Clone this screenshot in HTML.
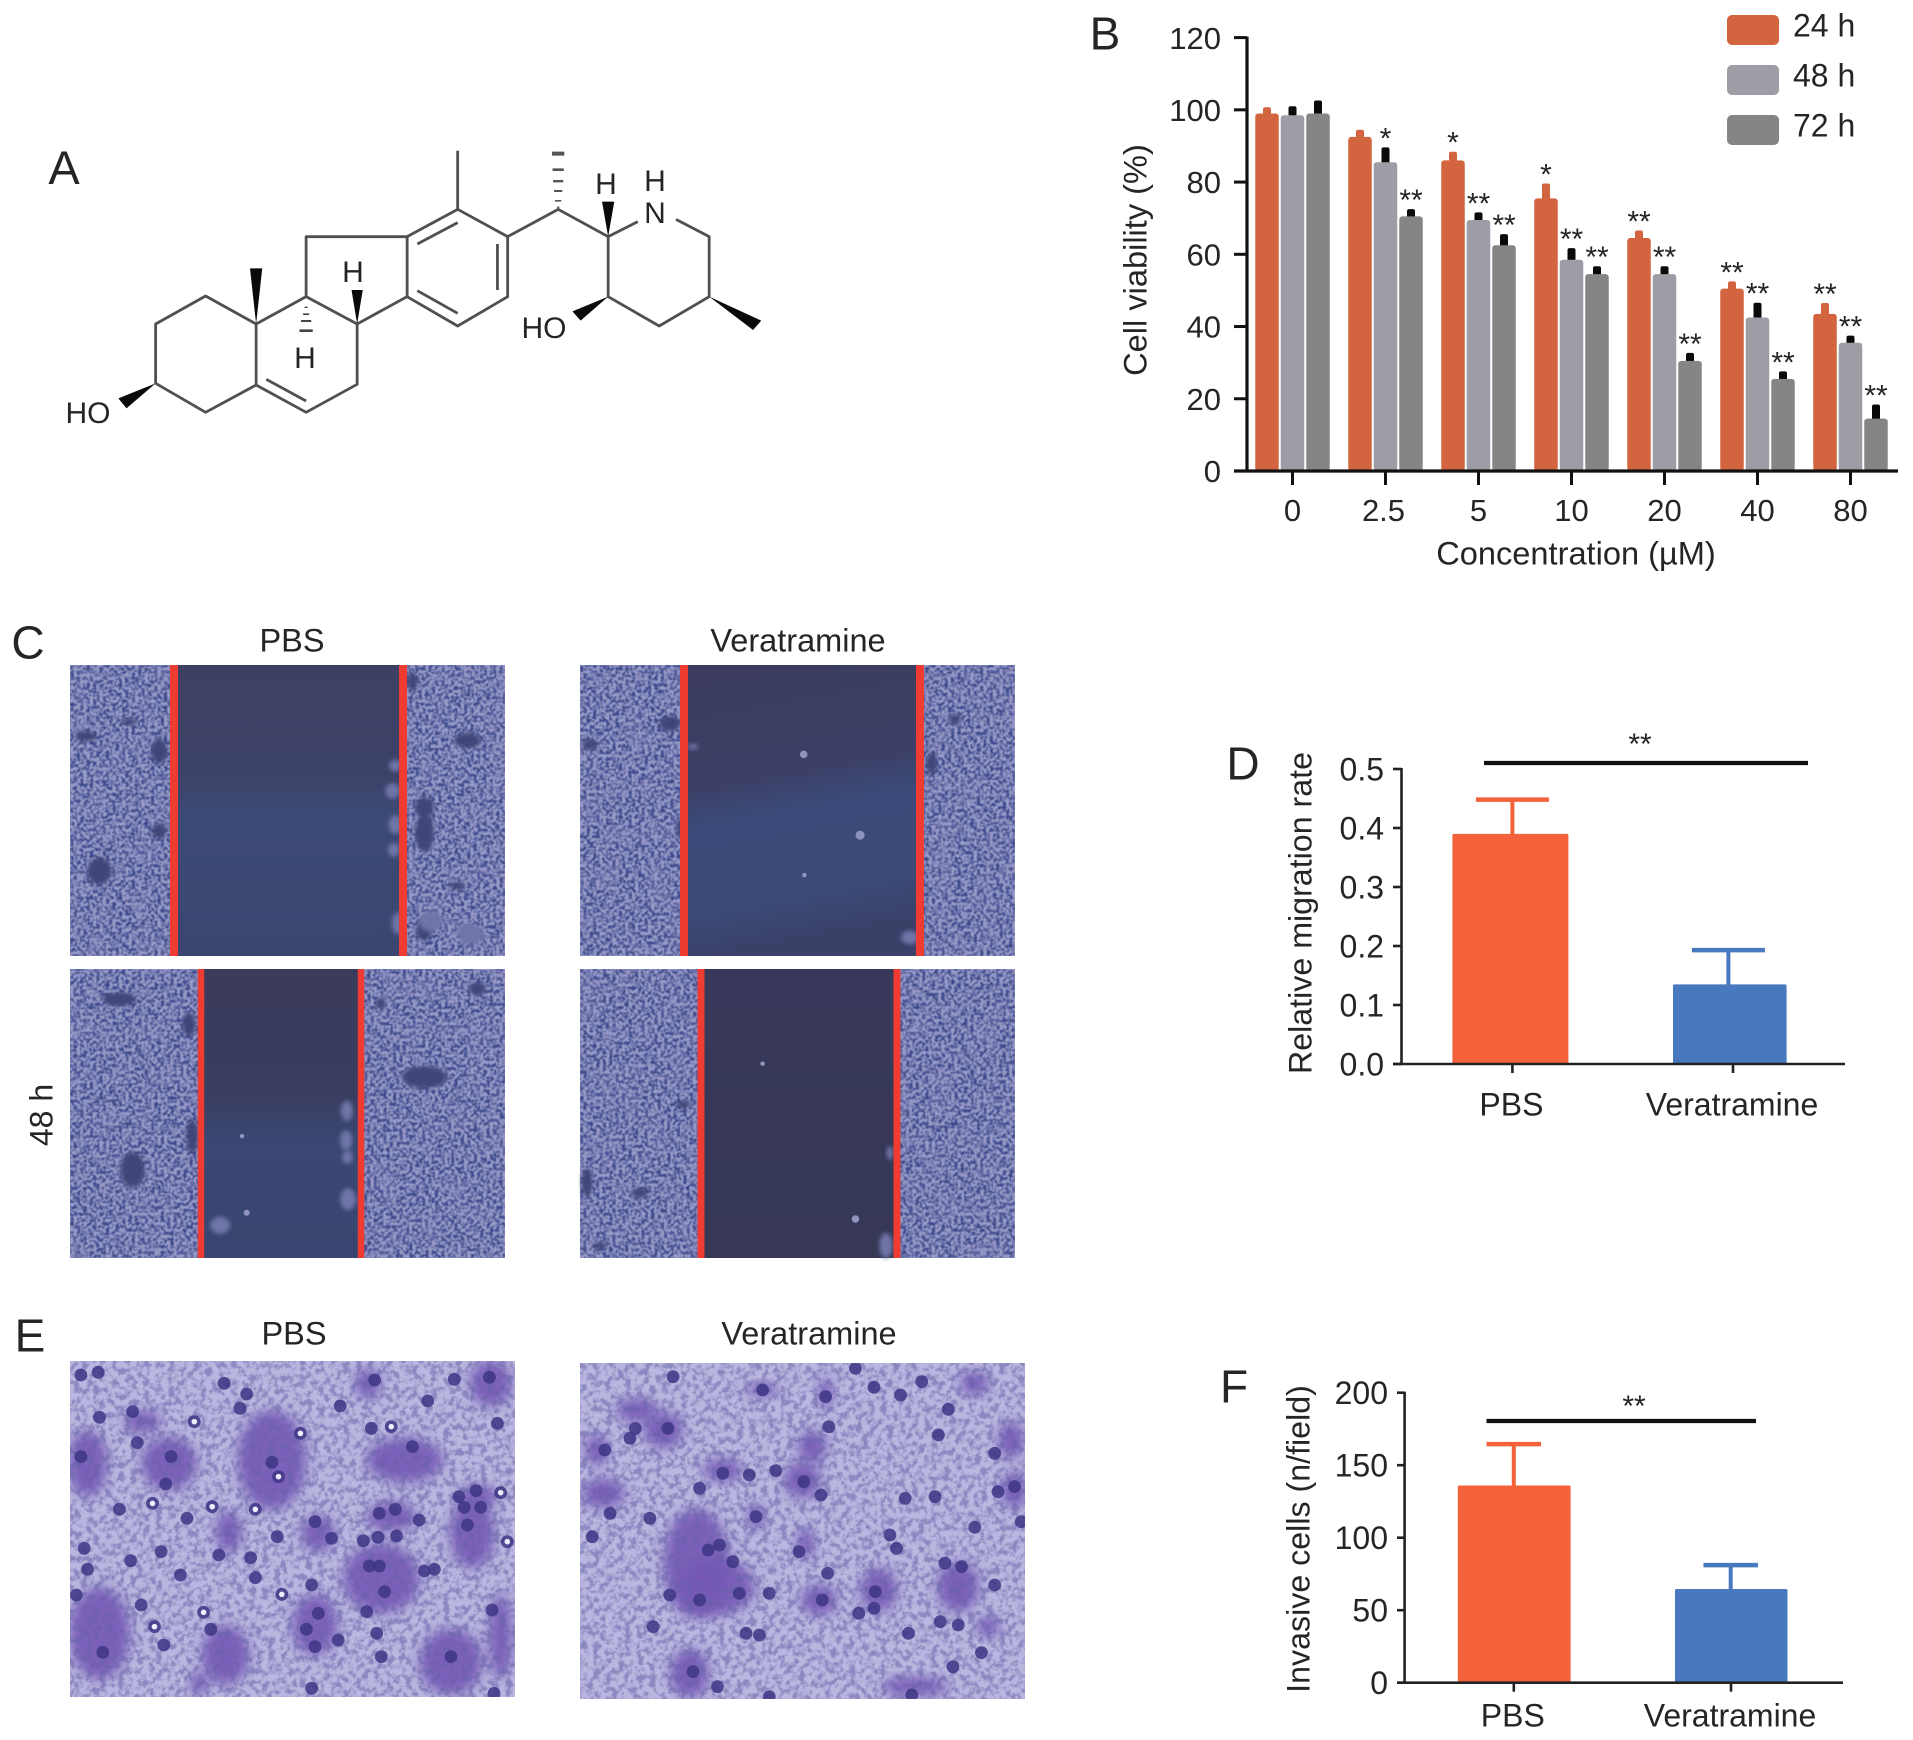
<!DOCTYPE html>
<html lang="en">
<head>
<meta charset="utf-8">
<title>Veratramine figure</title>
<style>
html,body{margin:0;padding:0;background:#fff;width:1913px;height:1740px;overflow:hidden}
svg{display:block}
text{font-family:"Liberation Sans",sans-serif;fill:#252525}
</style>
</head>
<body>
<svg id="fig" xmlns="http://www.w3.org/2000/svg" width="1913" height="1740" viewBox="0 0 1913 1740">
<defs>
<filter id="cellTex" x="0" y="0" width="1" height="1" color-interpolation-filters="sRGB">
<feTurbulence type="fractalNoise" baseFrequency=".31" numOctaves="2" seed="4"/>
<feColorMatrix type="matrix" values="0 0 0 0 .23  0 0 0 0 .28  0 0 0 0 .54  4.4 0 0 0 -1.8"/>
<feGaussianBlur stdDeviation=".6"/>
</filter>
<filter id="mottleTex" x="0" y="0" width="1" height="1" color-interpolation-filters="sRGB">
<feTurbulence type="fractalNoise" baseFrequency=".045" numOctaves="2" seed="12"/>
<feColorMatrix type="matrix" values="0 0 0 0 .58  0 0 0 0 .56  0 0 0 0 .76  4 0 0 0 -1.75"/>
</filter>
<filter id="stainTex" x="0" y="0" width="1" height="1" color-interpolation-filters="sRGB">
<feTurbulence type="fractalNoise" baseFrequency=".16" numOctaves="3" seed="9"/>
<feColorMatrix type="matrix" values="0 0 0 0 .40  0 0 0 0 .38  0 0 0 0 .66  4 0 0 0 -1.7"/>
</filter>
<filter id="softBlur" x="-30%" y="-30%" width="160%" height="160%"><feGaussianBlur stdDeviation="6"/></filter>
<filter id="lightBlur" x="-30%" y="-30%" width="160%" height="160%"><feGaussianBlur stdDeviation="2.2"/></filter>
<linearGradient id="woundTL" x1="0" y1="0" x2="0" y2="1"><stop offset="0" stop-color="#3e3f64"/><stop offset=".38" stop-color="#3d4268"/><stop offset=".52" stop-color="#3b4a75"/><stop offset="1" stop-color="#3a4670"/></linearGradient>
<linearGradient id="woundTR" x1="0" y1="0" x2=".15" y2="1"><stop offset="0" stop-color="#3b3c5f"/><stop offset=".42" stop-color="#3c3f66"/><stop offset=".55" stop-color="#3b4a78"/><stop offset=".85" stop-color="#3b4a76"/><stop offset="1" stop-color="#3a4068"/></linearGradient>
<linearGradient id="woundBL" x1="0" y1="0" x2="0" y2="1"><stop offset="0" stop-color="#3b3b5b"/><stop offset=".42" stop-color="#3a3d60"/><stop offset=".6" stop-color="#394772"/><stop offset="1" stop-color="#394570"/></linearGradient>
<linearGradient id="woundBR" x1="0" y1="0" x2="0" y2="1"><stop offset="0" stop-color="#38395a"/><stop offset="1" stop-color="#363856"/></linearGradient>
</defs>

<!-- Panel A: structure -->
<g>
<text x="64" y="184" font-size="47" text-anchor="middle">A</text>
<g transform="scale(.5102 .33333) translate(0 300)" fill="none" stroke="#505050" stroke-width="2.8" stroke-linejoin="round">
<path vector-effect="non-scaling-stroke" d="M305 672L403 588L502 672L502 855L403 937L305 850Z"/>
<path vector-effect="non-scaling-stroke" d="M502 672L600 590L700 672L700 853L600 937L502 855"/>
<path vector-effect="non-scaling-stroke" d="M522 838L600 903"/>
<path vector-effect="non-scaling-stroke" d="M600 590L600 410L798 410L798 590L700 672"/>
<path vector-effect="non-scaling-stroke" d="M798 410L897 328L995 410L995 590L897 678L798 590"/>
<path vector-effect="non-scaling-stroke" d="M818 432L897 368M975 432L975 570M818 572L897 640"/>
<path vector-effect="non-scaling-stroke" d="M897 328L897 152"/>
<path vector-effect="non-scaling-stroke" d="M995 410L1094 328L1192 410L1250 365"/>
<path vector-effect="non-scaling-stroke" d="M1325 358L1390 410L1390 590L1292 678L1192 590L1192 410"/>
</g>
<g transform="scale(.5102 .33333) translate(0 300)" fill="#0a0a0a">
<polygon points="502,672 490,505 514,505"/>
<polygon points="700,672 689,570 711,570"/>
<polygon points="1192,410 1180,305 1204,305"/>
<polygon points="1192,590 1122,634 1138,662"/>
<polygon points="1390,590 1492,662 1476,690"/>
<polygon points="305,850 232,895 248,925"/>
<path d="M1094 330l-3 -10h6zM1088 300h12v5h-12zM1086 270h16v6h-16zM1084 240h20v7h-20zM1083 205h22v8h-22zM1082 155h24v12h-24z" fill="#555"/>
<path d="M597 620h6v4h-6zM594 640h12v5h-12zM590 660h20v6h-20zM587 688h26v8h-26z" fill="#444"/>
</g>
<text x="88" y="423" font-size="30" text-anchor="middle">HO</text>
<text x="544" y="338" font-size="30" text-anchor="middle">HO</text>
<text x="606" y="194" font-size="30" text-anchor="middle">H</text>
<text x="655" y="191" font-size="30" text-anchor="middle">H</text>
<text x="655" y="223" font-size="30" text-anchor="middle">N</text>
<text x="353" y="282" font-size="30" text-anchor="middle">H</text>
<text x="305" y="368" font-size="30" text-anchor="middle">H</text>
</g>

<g id="panelB"></g>
<g id="panelC"></g>
<g id="panelD"></g>
<g id="panelE"></g>
<g id="panelF"></g>
</svg>

<script>
// Panel B data
const bCategories = ['0', '2.5', '5', '10', '20', '40', '80'];
const bSeriesNames = ['24 h', '48 h', '72 h'];
const bValues24 = [99, 92.5, 86, 75.5, 64.5, 50.5, 43.5];
const bValues48 = [98.5, 85.5, 69.5, 58.5, 54.5, 42.5, 35.5];
const bValues72 = [99, 70.5, 62.5, 54.5, 30.5, 25.5, 14.5];
const bErrors24 = [1.7, 2, 2.4, 4.1, 2.1, 2, 3];
const bErrors48 = [2.5, 4.1, 2.1, 3.2, 2.2, 4.1, 2];
const bErrors72 = [3.6, 2, 3.1, 2.2, 2.2, 2.1, 3.9];
const bStars24 = ['', '', '*', '*', '**', '**', '**'];
const bStars48 = ['', '*', '**', '**', '**', '**', '**'];
const bStars72 = ['', '**', '**', '**', '**', '**', '**'];
const bTicks = [0, 20, 40, 60, 80, 100, 120];

// Panel D data
const dCategories = ['PBS', 'Veratramine'];
const dValues = [0.39, 0.135];
const dErrors = [0.058, 0.058];
const dTicks = ['0.0', '0.1', '0.2', '0.3', '0.4', '0.5'];

// Panel F data
const fCategories = ['PBS', 'Veratramine'];
const fValues = [136, 64.6];
const fErrors = [28.5, 16.5];
const fTicks = [0, 50, 100, 150, 200];

const NS = 'http://www.w3.org/2000/svg';
function mk(tag, attrs, parent) {
  const el = document.createElementNS(NS, tag);
  for (const k in attrs) el.setAttribute(k, attrs[k]);
  parent.appendChild(el);
  return el;
}
function label(str, x, y, size, anchor, parent, rot) {
  const a = {x: x, y: y + size * 0.36, 'font-size': size, 'text-anchor': anchor};
  if (rot) a.transform = 'rotate(-90 ' + x + ' ' + y + ')';
  const el = mk('text', a, parent);
  el.textContent = str;
  return el;
}

/* ---------- Panel B ---------- */
(function () {
  const g = document.getElementById('panelB');
  const y0 = 471, y120 = 37.6;
  const yS = v => y0 - (v / 120) * (y0 - y120);
  const xTick = i => 1292.5 + i * 93;
  const colors = ['#d2643f', '#9d9da5', '#858585'];
  const errColors = ['#d2643f', '#0a0a0a', '#0a0a0a'];
  const vals = [bValues24, bValues48, bValues72];
  const errs = [bErrors24, bErrors48, bErrors72];
  const stars = [bStars24, bStars48, bStars72];
  const barW = 23.5, step = 25.5;

  let el = label('B', 1105, 33, 46, 'middle', g);
  
  

  bCategories.forEach((cat, i) => {
    vals.forEach((series, s) => {
      const cx = xTick(i) + (s - 1) * step;
      const top = yS(series[i]);
      const errTop = yS(series[i] + errs[s][i]);
      const stem = mk('rect', {x: cx - 4, y: errTop, width: 8, height: top - errTop + 3, rx: 2, fill: errColors[s]}, g);
      
      
      const bar = mk('rect', {x: cx - barW / 2, y: top, width: barW, height: y0 - top, rx: 3, fill: colors[s]}, g);
      
      
      if (stars[s][i]) {
        const t = mk('text', {x: cx, y: errTop + 1, 'font-size': 30, 'text-anchor': 'middle'}, g);
        t.textContent = stars[s][i];
        
        
      }
    });
  });

  let axis = mk('line', {x1: 1247, y1: y120 - 1, x2: 1247, y2: y0 + 1.5, stroke: '#111', 'stroke-width': 3.2}, g);
  
  
  axis = mk('line', {x1: 1234, y1: y0, x2: 1898, y2: y0, stroke: '#111', 'stroke-width': 3.2}, g);
  
  

  bTicks.forEach(t => {
    const tk = mk('line', {x1: 1234, y1: yS(t), x2: 1247, y2: yS(t), stroke: '#111', 'stroke-width': 3}, g);
    
    
    const lb = label(String(t), 1221, yS(t), 31, 'end', g);
    
    
  });
  bCategories.forEach((cat, i) => {
    const tk = mk('line', {x1: xTick(i), y1: y0, x2: xTick(i), y2: y0 + 14, stroke: '#111', 'stroke-width': 3}, g);
    
    
    const lb = label(cat, xTick(i) + (i === 1 ? -2 : 0), 510, 31, 'middle', g);
    
    
  });
  const xt = label('Concentration (\u00b5M)', 1576, 553, 32.6, 'middle', g);
  
  
  const yt = label('Cell viability (%)', 1135, 260, 32.6, 'middle', g, true);
  
  

  bSeriesNames.forEach((name, s) => {
    const yy = 15 + s * 50;
    const sw = mk('rect', {x: 1727, y: yy, width: 52, height: 30, rx: 5, fill: colors[s]}, g);
    
    
    const lb = label(name, 1793, yy + 10, 32, 'start', g);
    
    
  });
})();

/* ---------- Panels D and F ---------- */
function twoBar(g, o) {
  const yS = v => o.y0 - (v / o.max) * (o.y0 - o.yTop);
  o.cats.forEach((cat, i) => {
    const b = o.bars[i];
    const color = o.colors[i];
    const top = yS(o.vals[i]);
    const errTop = yS(o.vals[i] + o.errs[i]);
    const stem = mk('line', {x1: b.stem, y1: errTop, x2: b.stem, y2: top + 2, stroke: color, 'stroke-width': 4}, g);
    
    
    const cap = mk('line', {x1: b.stem - b.capW / 2, y1: errTop, x2: b.stem + b.capW / 2, y2: errTop, stroke: color, 'stroke-width': 4.5}, g);
    
    
    const bar = mk('rect', {x: b.x, y: top, width: b.w, height: o.y0 - top, rx: 1.5, fill: color}, g);
    
    
    const tk = mk('line', {x1: b.tick, y1: o.y0, x2: b.tick, y2: o.y0 + 9, stroke: '#222', 'stroke-width': 2.6}, g);
    
    
    const lb = label(cat, b.tick - 1, o.xLabelY, 32, 'middle', g);
    
    
  });
  let ax = mk('line', {x1: o.axisX, y1: o.yTop - 1, x2: o.axisX, y2: o.y0, stroke: '#222', 'stroke-width': 2.6}, g);
  
  
  ax = mk('line', {x1: o.tickX, y1: o.y0, x2: o.xEnd, y2: o.y0, stroke: '#222', 'stroke-width': 2.6}, g);
  
  
  o.ticks.forEach(t => {
    const v = parseFloat(t);
    const tk = mk('line', {x1: o.tickX, y1: yS(v), x2: o.axisX, y2: yS(v), stroke: '#222', 'stroke-width': 2.6}, g);
    
    
    const lb = label(String(t), o.tickX - 9, yS(v), 32, 'end', g);
    
    
  });
  const sig = mk('line', {x1: o.sig[0], y1: o.sig[2], x2: o.sig[1], y2: o.sig[2], stroke: '#111', 'stroke-width': 4.2}, g);
  
  
  const st = mk('text', {x: o.sig[3], y: o.sig[4] + 18, 'font-size': 30, 'text-anchor': 'middle'}, g);
  st.textContent = '**';
  
  
  const yt = label(o.title, o.titleX, o.titleY, 32.2, 'middle', g, true);
  
  
}

(function () {
  const g = document.getElementById('panelD');
  const l = label('D', 1243, 763, 46, 'middle', g);
  
  
  twoBar(g, {
    cats: dCategories, vals: dValues, errs: dErrors, ticks: dTicks, max: 0.5,
    y0: 1064, yTop: 769, axisX: 1401.5, tickX: 1393, xEnd: 1845, xLabelY: 1104,
    colors: ['#f4623b', '#4878bd'],
    bars: [{x: 1452.4, w: 116, stem: 1512.4, capW: 73, tick: 1512.4}, {x: 1673, w: 113.6, stem: 1728.4, capW: 73, tick: 1733}],
    sig: [1484, 1808, 763, 1640, 736],
    title: 'Relative migration rate', titleX: 1300, titleY: 913
  });
})();

(function () {
  const g = document.getElementById('panelF');
  const l = label('F', 1234, 1386, 46, 'middle', g);
  
  
  twoBar(g, {
    cats: fCategories, vals: fValues, errs: fErrors, ticks: fTicks, max: 200,
    y0: 1682.7, yTop: 1392.7, axisX: 1404.6, tickX: 1397, xEnd: 1843, xLabelY: 1715,
    colors: ['#f4623b', '#4878bd'],
    bars: [{x: 1457.8, w: 112.8, stem: 1513.8, capW: 54.5, tick: 1513.8}, {x: 1675, w: 112.5, stem: 1730.7, capW: 54.5, tick: 1731}],
    sig: [1486.5, 1756, 1421, 1634, 1398],
    title: 'Invasive cells (n/field)', titleX: 1298, titleY: 1539
  });
})();

/* ---------- Panel C: wound-healing micrographs (decorative approximations) ---------- */
(function () {
  const g = document.getElementById('panelC');
  const zx = x => x / 1.508, zy = y => 610 + y / 2.376;
  let t = label('C', 28, 642, 46, 'middle', g);
  
  
  t = label('PBS', 292, 640, 32.5, 'middle', g);
  
  
  t = label('Veratramine', 798, 640, 32.5, 'middle', g);
  
  
  t = label('48 h', 41, 1115, 32, 'middle', g, true);
  
  

  const panels = [
    {n: 'pbs-0h', x: 70, y: 665, w: 435, h: 291, l: 174, r: 403, grad: 'woundTL', lw: 8,
     voids: [[150,620,18,32],[130,300,16,12],[240,335,12,30],[240,525,11,18],[705,310,20,18],[640,530,14,45],[690,655,12,9],[640,470,14,25],[195,265,12,8],[640,760,12,26],[622,170,8,22]],
     clumps: [[596,370,9,14],[592,430,11,18],[596,510,10,22],[594,570,9,16],[600,745,9,26],[650,740,18,24],[710,770,20,24]], spots: []},
    {n: 'veratramine-0h', x: 580, y: 665, w: 435, h: 291, l: 684, r: 920, grad: 'woundTR', lw: 8,
     voids: [[1010,270,16,18],[890,320,12,12],[1440,260,9,12],[1405,365,8,26],[1025,520,5,26]],
     clumps: [[1045,325,8,7],[1372,778,13,16]], spots: [[1212,343,5],[1297,535,6],[1213,630,3]]},
    {n: 'pbs-48h', x: 70, y: 969, w: 435, h: 289, l: 201, r: 361, grad: 'woundBL', lw: 6.5,
     voids: [[180,925,26,16],[640,1110,34,26],[200,1330,18,42],[290,1250,9,40],[285,985,10,28],[575,935,7,13],[720,900,12,16]],
     clumps: [[523,1190,9,24],[522,1260,9,24],[524,1300,8,16],[525,1400,12,26],[332,1462,15,20]], spots: [[365,1250,3],[372,1432,4]]},
    {n: 'veratramine-48h', x: 580, y: 969, w: 435, h: 289, l: 701, r: 897, grad: 'woundBR', lw: 7,
     voids: [[965,1385,12,12],[885,1360,8,34],[1030,1175,10,10],[905,1510,12,8]],
     clumps: [[1336,1510,10,30],[1342,1290,5,16]], spots: [[1150,1078,3],[1290,1447,5]]}
  ];
  panels.forEach(p => {
    const frame = mk('g', {}, g);
    
    
    mk('rect', {x: p.x, y: p.y, width: p.w, height: p.h, fill: '#9a9dc9'}, frame);
    mk('rect', {x: p.x, y: p.y, width: p.w, height: p.h, filter: 'url(#cellTex)'}, frame);
    mk('rect', {x: p.x, y: p.y, width: p.w, height: p.h, filter: 'url(#mottleTex)', opacity: '.25'}, frame);
    p.voids.forEach(v => {
      mk('ellipse', {cx: zx(v[0]), cy: zy(v[1]), rx: v[2] / 1.508, ry: v[3] / 2.376, fill: '#3f4578', filter: 'url(#lightBlur)'}, frame);
    });
    mk('rect', {x: p.l, y: p.y, width: p.r - p.l, height: p.h, fill: 'url(#' + p.grad + ')'}, frame);
    p.clumps.forEach(v => {
      mk('ellipse', {cx: zx(v[0]), cy: zy(v[1]), rx: v[2] / 1.508, ry: v[3] / 2.376, fill: '#6f74a8', filter: 'url(#lightBlur)'}, frame);
    });
    p.spots.forEach(v => {
      mk('circle', {cx: zx(v[0]), cy: zy(v[1]), r: v[2] * 0.75, fill: '#8f94bf'}, frame);
    });
    const a = mk('rect', {x: p.l - p.lw / 2, y: p.y, width: p.lw, height: p.h, fill: '#ee3c32'}, frame);
    
    
    const b = mk('rect', {x: p.r - p.lw / 2, y: p.y, width: p.lw, height: p.h, fill: '#ee3c32'}, frame);
    
    
  });
})();

/* ---------- Panel E: invasion micrographs (decorative approximations) ---------- */
(function () {
  const g = document.getElementById('panelE');
  const zx = x => x / 1.508, zy = y => 1300 + y / 3;
  let t = label('E', 30, 1335, 46, 'middle', g);
  
  
  t = label('PBS', 294, 1333, 32.5, 'middle', g);
  
  
  t = label('Veratramine', 809, 1333, 32.5, 'middle', g);
  
  

  const panels = [
    {n: 'pbs', id: 'clipEL', x: 70, y: 1361, w: 445, h: 336,
     blobs: [[132,490,30,100],[255,490,42,80],[215,365,28,35],[410,480,52,150],[610,480,58,68],[740,250,32,70],[555,250,20,45],[345,695,20,62],[480,700,26,55],[575,835,58,105],[590,650,38,45],[712,700,34,105],[720,590,30,36],[150,1000,46,140],[340,1065,36,90],[475,975,34,92],[680,1085,48,100],[755,1010,18,130],[300,1150,14,36]],
     dots: [[122,225],[148,217],[200,335],[150,352],[207,428],[122,470],[258,470],[250,552],[372,282],[362,325],[338,250],[293,365,1],[410,487],[420,530,1],[453,400,1],[565,240],[685,238],[738,232],[513,318],[645,303],[590,380,1],[622,440],[560,385],[750,370],[180,628],[320,620,1],[385,628,1],[230,610,1],[282,655],[572,640],[596,628],[632,660],[718,572],[692,590],[700,622],[725,622],[755,578,1],[418,710],[500,715],[475,665],[570,712],[598,708],[548,722],[705,675],[127,745],[243,755],[197,782],[330,765],[378,773],[132,808],[272,825],[385,833],[557,798],[572,798],[640,813],[655,808],[470,855],[580,875],[115,885],[425,883,1],[213,915],[307,937,1],[233,980,1],[553,935],[742,930],[318,988],[462,988],[480,940],[247,1035],[155,1057],[475,1040],[510,1020],[568,1000],[680,1070],[575,1070],[470,1165],[745,1180],[765,725,1]]},
    {n: 'veratramine', id: 'clipER', x: 580, y: 1363, w: 445, h: 336,
     blobs: [[960,330,32,36],[1000,390,30,55],[910,580,32,46],[900,450,18,48],[1090,510,30,35],[1225,440,22,48],[1150,270,24,22],[1245,280,11,48],[1470,250,22,36],[1525,420,20,56],[1530,570,20,56],[1050,790,50,165],[1080,860,58,85],[1235,900,28,46],[1325,870,28,66],[1445,860,32,76],[1490,980,18,32],[1140,650,14,38],[1040,1120,30,74],[1380,1160,50,30],[1215,730,14,46],[1210,540,28,55]],
     dots: [[1015,230],[1290,205],[1390,245],[1318,262],[1358,285],[1430,328],[958,385],[1007,385],[950,415],[912,450],[1250,380],[1415,405],[1090,520],[1130,525],[1170,512],[1212,545],[1238,585],[1055,565],[1150,270],[1245,290],[920,640],[980,655],[1140,650],[1500,460],[1505,575],[1530,560],[1410,590],[1365,595],[1342,705],[1352,745],[1470,682],[1540,665],[1068,750],[1085,735],[1105,785],[1205,755],[893,710],[1010,885],[1055,900],[1115,880],[1160,880],[1240,900],[1320,875],[1318,925],[1248,820],[1425,790],[1450,800],[1500,855],[1418,965],[1445,975],[1295,940],[1145,1005],[1125,1000],[1480,1058],[1437,1100],[1045,1115],[1082,1160],[1160,1190],[1375,1185],[985,980],[1370,1000]]}
  ];
  panels.forEach(p => {
    const cp = mk('clipPath', {id: p.id}, g);
    mk('rect', {x: p.x, y: p.y, width: p.w, height: p.h}, cp);
    const frame = mk('g', {'clip-path': 'url(#' + p.id + ')'}, g);
    
    
    mk('rect', {x: p.x, y: p.y, width: p.w, height: p.h, fill: '#b9b7df'}, frame);
    p.blobs.forEach(b => {
      mk('ellipse', {cx: zx(b[0]), cy: zy(b[1]), rx: b[2] / 1.508, ry: b[3] / 3, fill: '#7658b6', 'fill-opacity': '.9', filter: 'url(#softBlur)'}, frame);
    });
    mk('rect', {x: p.x, y: p.y, width: p.w, height: p.h, filter: 'url(#stainTex)', opacity: '.55'}, frame);
    p.dots.forEach(d => {
      mk('circle', {cx: zx(d[0]), cy: zy(d[1]), r: 6.4, fill: '#3d3585', 'fill-opacity': '.85'}, frame);
      if (d[2]) mk('circle', {cx: zx(d[0]), cy: zy(d[1]), r: 2.8, fill: '#eeeefa'}, frame);
    });
  });
})();
</script>
</body>
</html>
